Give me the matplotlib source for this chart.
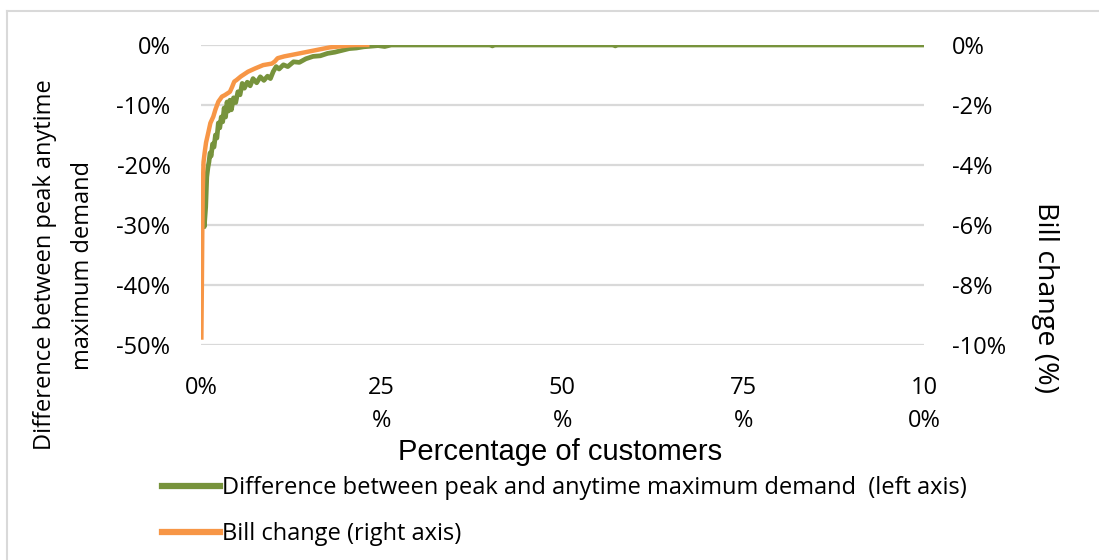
import matplotlib
matplotlib.use("Agg")
import matplotlib.pyplot as plt
from matplotlib.lines import Line2D

# Share of customers (x, %) and difference between peak and anytime maximum demand (left axis, %)
demand_x = [0.0, 0.1, 0.25, 0.45, 0.65, 0.8, 0.95, 1.1, 1.25, 1.4, 1.6, 1.8, 2.0, 2.2,
            2.4, 2.6, 2.8, 3.0, 3.2, 3.4, 3.6, 3.8, 4.0, 4.2, 4.5, 4.8, 5.1, 5.4, 5.7,
            6.0, 6.4, 6.8, 7.2, 7.7, 8.2, 8.7, 9.2, 9.6, 10.0, 10.4, 10.8, 11.4, 12.0,
            12.8, 13.6, 14.5, 15.5, 16.5, 17.5, 18.5, 19.5, 20.5, 21.5, 22.5, 23.5,
            24.5, 25.4, 26.3, 27.5, 40.0, 40.3, 40.6, 57.0, 57.3, 57.6, 100.0]
demand_diff = [-23.5, -26.0, -28.5, -30.3, -27.0, -22.0, -20.5, -19.5, -18.0, -18.5,
               -16.5, -17.0, -15.0, -15.5, -13.0, -13.8, -12.0, -12.8, -10.5, -12.0,
               -9.5, -11.0, -9.2, -10.8, -8.8, -9.6, -7.8, -8.3, -6.4, -7.2, -6.2,
               -6.8, -5.6, -6.3, -5.3, -5.9, -5.2, -5.6, -4.4, -3.6, -4.0, -3.3, -3.6,
               -2.8, -2.9, -2.3, -1.9, -1.8, -1.4, -1.2, -0.9, -0.6, -0.5, -0.3, -0.2,
               -0.1, -0.25, 0.0, 0.0, 0.0, -0.15, 0.0, 0.0, -0.15, 0.0, 0.0]

# Bill change (right axis, %)
bill_x = [0.05, 0.12, 0.18, 0.25, 0.35, 0.5, 0.7, 1.0, 1.3, 1.7, 2.0, 2.4, 2.9, 3.3,
          4.0, 4.3, 4.6, 4.9, 5.5, 6.5, 7.5, 8.6, 9.8, 10.2, 10.6, 11.5, 13.2, 15.5,
          17.8, 19.5, 20.6, 21.5, 23.0]
bill_change = [-9.75, -8.0, -6.2, -4.8, -3.9, -3.6, -3.25, -2.93, -2.6, -2.39, -2.15,
               -1.89, -1.72, -1.67, -1.56, -1.4, -1.22, -1.17, -1.05, -0.89, -0.78,
               -0.67, -0.62, -0.55, -0.44, -0.38, -0.3, -0.19, -0.08, -0.04, -0.01,
               0.0, 0.0]

x_ticks = [0, 25, 50, 75, 100]
x_tick_labels = ["0%", "25\n%", "50\n%", "75\n%", "10\n0%"]
left_ticks = [0, -10, -20, -30, -40, -50]
left_tick_labels = ["0%", "-10%", "-20%", "-30%", "-40%", "-50%"]
right_ticks = [0, -2, -4, -6, -8, -10]
right_tick_labels = ["0%", "-2%", "-4%", "-6%", "-8%", "-10%"]

GREEN = "#77933C"
ORANGE = "#F79646"
GRID = "#D9D9D9"
TICK_FONT = ["Open Sans", "DejaVu Sans"]

W, H = 1099, 560
fig = plt.figure(figsize=(W / 100, H / 100), dpi=100)
left, right, top, bottom = 201, 924, 45, 345
ax = fig.add_axes([left / W, 1 - bottom / H, (right - left) / W, (bottom - top) / H])
ax2 = ax.twinx()

ax.set_xlim(0, 100)
ax.set_ylim(-50, 0)
ax2.set_ylim(-10, 0)

for a in (ax, ax2):
    for s in a.spines.values():
        s.set_visible(False)

ax.set_yticks(left_ticks)
ax.set_yticklabels(left_tick_labels, fontfamily=TICK_FONT, fontsize=17)
ax2.set_yticks(right_ticks)
ax2.set_yticklabels(right_tick_labels, fontfamily=TICK_FONT, fontsize=17)
ax.set_xticks(x_ticks)
ax.set_xticklabels(x_tick_labels, fontfamily=TICK_FONT, fontsize=17, linespacing=1.55,
                   va="top")
ax.tick_params(axis="y", length=0, pad=22)
ax2.tick_params(axis="y", length=0, pad=20)
ax.tick_params(axis="x", length=0, pad=22)

ax.grid(axis="y", color=GRID, linewidth=1.6)
ax.set_axisbelow(True)

ax.plot(demand_x, demand_diff, color=GREEN, linewidth=3.4, solid_joinstyle="round",
        zorder=2)
ax2.plot(bill_x, bill_change, color=ORANGE, linewidth=3.2, solid_joinstyle="round",
         zorder=3)

# Axis titles
fig.text(64 / W, 1 - 265 / H, "Difference between peak anytime\nmaximum demand",
         rotation=90, ha="center", va="center", fontsize=17, fontfamily=TICK_FONT,
         linespacing=1.75)
fig.text(1045 / W, 1 - 298 / H, "Bill change (%)", rotation=270, ha="center",
         va="center", fontsize=20.5, fontfamily=TICK_FONT)
fig.text(560 / W, 1 - 452 / H, "Percentage of customers", ha="center", va="center",
         fontsize=21, fontfamily=["Liberation Sans", "DejaVu Sans"])

# Legend
handles = [Line2D([], [], color=GREEN, linewidth=4.5),
           Line2D([], [], color=ORANGE, linewidth=4.5)]
labels = ["Difference between peak and anytime maximum demand  (left axis)",
          "Bill change (right axis)"]
fig.legend(handles, labels, loc="upper left", bbox_to_anchor=(162 / W, 1 - 476 / H),
           frameon=False, handlelength=2.45, handletextpad=0.1, labelspacing=0.95,
           borderaxespad=0, borderpad=0,
           prop={"family": TICK_FONT, "size": 17})

# Chart frame
fig.add_artist(Line2D([7 / W, 1], [1 - 11 / H, 1 - 11 / H], color=GRID,
                      linewidth=1.5, transform=fig.transFigure))
fig.add_artist(Line2D([7 / W, 7 / W], [0, 1 - 11 / H], color=GRID,
                      linewidth=1.5, transform=fig.transFigure))

fig.savefig("out.png", dpi=100, facecolor="white")
